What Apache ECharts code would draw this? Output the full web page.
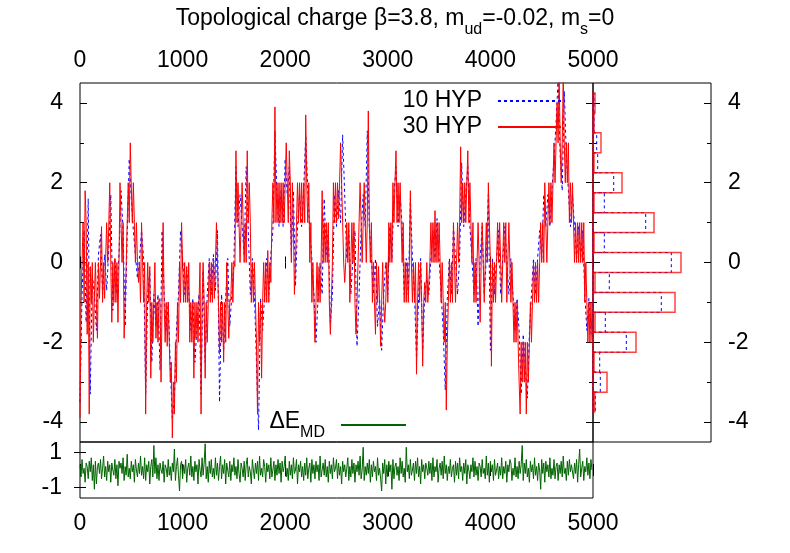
<!DOCTYPE html>
<html>
<head>
<meta charset="utf-8">
<script src="https://cdn.jsdelivr.net/npm/echarts@6/dist/echarts.min.js"></script>
<style>
  html, body { margin: 0; padding: 0; background: #fff; }
  #chart { width: 790px; height: 553px; }
</style>
</head>
<body>
<div id="chart"></div>
<script>
// MD time between stored samples
const STEP_10 = 20
const STEP_30 = 10
const STEP_DE = 10

// topological charge, 10 HYP smearing steps
const q10 = [
  -3.5, -0.8, 0.8, -1.5, 1.6, -3.3, -0.3, -0.8, -1.7, 0.2,
  0.7, -0.8, 0.2, -0.7, 0.3, 1.7, -1.2, 0.1, -0.8, 0.2,
  1.8, 0.8, -1.6, 0.7, 2.6, 1.6, 0.8, 0.2, -0.4, 0.1,
  0.8, 0.1, -3.3, -0.8, -0.2, -2.5, -0.8, -1.6, -0.8, -2.7,
  0.8, -0.8, -1.7, -1.0, -2.6, -3.9, -3.4, -1.7, -0.8, 0.8,
  0.1, -0.8, -0.2, -0.7, -1.7, -0.9, -2.5, -1.6, -0.8, -3.3,
  -0.2, -2.5, -0.8, 0.1, -0.8, 0.2, -0.7, 0.8, -3.5, -0.8,
  -2.2, -0.9, 0.1, -1.6, -0.8, 0.0, 2.4, 0.9, 1.7, 0.9,
  0.2, 2.4, 0.8, -0.8, 0.1, -0.8, -2.5, -4.2, -0.9, -1.7,
  -0.8, 0.1, -0.8, 0.2, 0.8, 3.3, 1.7, 0.9, 1.8, 0.9,
  2.6, 1.7, 2.4, 0.2, 1.8, -0.6, 0.9, 1.7, 0.9, 1.8,
  3.2, 1.8, 0.8, 0.1, -0.8, -2.0, -0.9, 0.0, -0.8, 1.6,
  0.2, 0.8, -1.5, -0.8, 1.7, 0.9, 1.8, 1.0, 3.2, 1.7,
  0.1, 0.8, -0.8, 0.1, 0.8, -2.1, -0.8, 0.8, 1.7, 0.9,
  3.3, 0.9, 0.1, -0.8, 0.1, -1.6, -0.9, -2.2, -0.8, 0.0,
  -0.8, 0.9, 0.1, 1.7, 2.4, 0.9, 1.7, 0.9, -0.8, 0.1,
  -0.8, 1.6, 0.1, -0.8, -2.4, -0.9, 0.1, -2.2, -0.8, -0.4,
  -0.8, 0.1, 0.8, 0.1, 1.1, 0.1, -0.8, -1.7, -3.2, -0.9,
  0.1, -0.8, 0.9, 0.1, -0.8, 0.1, 2.5, 0.9, 1.7, 2.4,
  0.9, 0.1, -0.8, 0.1, -1.6, 0.1, 0.9, -0.8, 0.1, 1.7,
  -2.2, 0.1, -0.8, 0.1, 0.8, -0.8, 0.1, 0.9, 0.1, -0.8,
  0.1, -0.8, -1.7, -0.9, -1.7, -3.3, -1.8, -2.6, -3.4, -1.8,
  -0.8, 0.1, -0.8, 0.1, 0.8, 0.1, 1.7, 0.9, 1.7, 0.9,
  1.8, 2.6, 3.5, 4.6, 2.7, 1.8, 4.3, 2.7, 1.8, 0.9,
  1.7, 0.9, 0.1, 0.9, 0.1, 0.8, -0.8, -1.7, -0.9, -1.8
]

// topological charge, 30 HYP smearing steps
const q30 = [
  -3.9, -1.0, 0.0, 1.0, -1.0, 1.8, 1.0, -1.8, 0.0, -3.8,
  -0.1, -1.0, 0.0, -2.0, -0.9, 0.0, -1.0, -1.9, 0.0, -0.9,
  0.0, 0.9, -1.0, 0.0, -0.9, 0.1, 1.0, 0.0, 0.9, 2.0,
  0.0, -1.5, 0.0, -1.0, 0.1, -1.0, 0.0, -1.5, 0.0, 2.0,
  1.0, 0.0, 1.0, -1.9, -1.0, -0.1, 1.0, 2.0, 1.0, 3.0,
  1.9, 1.0, 2.0, 1.0, 0.0, 1.0, 0.0, -0.5, 0.0, -1.0,
  1.0, 0.0, -1.0, 0.0, -3.8, -1.0, 0.0, -1.0, -0.1, -2.9,
  -1.0, -2.0, -1.0, 0.0, -1.9, -1.0, -2.0, -0.9, -1.0, -3.0,
  -1.0, 1.0, -1.0, -2.0, -1.0, -2.1, -1.0, -2.0, -3.0, -2.5,
  -4.4, -3.0, -3.8, -2.0, -3.0, -1.0, -2.0, 0.0, -1.0, 1.0,
  0.0, -1.0, 0.0, -1.0, -0.1, -1.0, 0.0, -2.0, -1.0, -2.0,
  -1.0, -2.9, -1.0, -1.9, -1.0, -2.0, -1.0, 0.0, -3.8, -1.0,
  0.0, -1.0, -2.9, -1.0, -2.0, -1.0, 0.0, -1.0, 0.0, -1.0,
  0.1, -0.9, 0.0, 1.0, 0.0, -1.0, -2.3, -1.0, -2.0, -1.0,
  -2.5, -1.0, -2.0, 0.0, -1.0, -1.9, -1.0, -0.9, 0.0, -1.0,
  0.0, -0.1, 2.8, 1.0, 2.0, 1.0, 0.0, 1.0, 2.0, 1.0,
  0.0, 1.0, 0.0, 2.8, 1.0, 2.0, 1.0, -1.0, 0.0, -1.0,
  0.0, -1.0, -2.0, -3.8, -1.0, -2.0, -1.0, -2.9, -1.0, 0.0,
  -1.0, 0.0, -1.0, 0.3, -1.0, 0.0, -0.5, 1.0, 2.0, 1.0,
  3.9, 1.0, 2.0, 1.0, 2.0, 1.0, 2.0, 1.0, 2.0, 1.0,
  2.0, 3.0, 2.0, 1.0, 2.8, 2.0, 0.0, 2.0, 1.0, -0.8,
  0.0, 1.0, 2.0, 1.0, 2.0, 1.0, 2.0, 1.0, 2.0, 1.0,
  3.7, 2.0, 1.0, 2.0, 0.0, 1.0, -1.0, 0.0, -1.0, -2.0,
  -1.0, 0.0, -1.0, -0.1, -1.0, 0.0, 1.8, 0.0, 1.0, 0.0,
  1.0, 0.0, 1.0, -1.0, -1.8, -1.0, 0.0, 2.0, 1.0, 2.0,
  1.0, 2.0, 1.1, 2.0, 3.0, 2.0, 1.0, 0.0, -0.5, 0.0,
  1.0, 0.0, 1.0, -1.0, 0.0, 1.0, 0.0, 1.0, -1.0, -1.8,
  -1.0, 0.0, 1.0, 2.0, 1.0, 0.0, 1.0, 2.0, 1.0, 0.0,
  1.0, 3.8, 1.0, 0.0, 1.0, -1.0, 0.0, -1.0, -1.8, 0.0,
  -1.0, -0.1, -1.0, -2.1, -1.0, 0.0, -1.0, -1.5, -1.0, 0.0,
  -1.0, 1.0, 0.0, 1.0, 0.0, 2.0, 1.0, 2.0, 2.8, 1.0,
  2.0, 1.0, 2.0, 1.0, 0.0, 1.0, -1.0, 0.0, -1.0, 0.0,
  -1.0, 0.0, 1.8, 0.0, -1.0, 0.0, -1.0, 0.0, -2.8, -1.0,
  0.0, -1.0, 0.0, -1.0, -2.6, -1.0, -0.5, -1.0, 0.0, -1.0,
  -0.5, 0.0, 1.0, 0.0, 1.0, 0.0, 1.3, 0.0, 1.0, 0.0,
  1.0, 0.0, -1.0, 0.0, -1.0, -2.0, -1.0, -3.7, -2.0, -1.0,
  0.0, -1.0, 0.0, -1.0, 1.0, 0.0, -1.0, 0.0, 1.0, 0.0,
  1.0, 2.9, 1.0, 2.0, 1.0, 2.0, 1.0, 2.0, 2.8, 1.0,
  2.0, 1.0, 0.0, 1.0, -1.0, 0.0, -1.0, 0.0, 1.0, 0.0,
  -1.5, 0.0, 1.0, 0.0, -1.0, 0.0, 1.0, 0.0, 2.0, 1.0,
  0.0, -2.6, 0.0, -1.0, 0.0, -1.0, 0.0, 1.0, 0.0, 1.0,
  0.0, -1.0, 0.0, 1.0, 0.0, 1.0, -1.0, 0.0, 1.0, 0.0,
  -1.0, 0.0, -1.0, -2.0, -1.0, -2.0, -1.0, -2.0, -3.0, -3.8,
  -2.0, -3.0, -2.0, -3.0, -2.0, -3.8, -2.0, -3.0, -2.0, -1.0,
  -2.0, -1.0, 0.0, -1.0, 0.0, -1.0, 0.0, -1.0, 0.0, 1.0,
  0.0, 1.0, 0.0, 2.0, 1.0, 0.0, 1.0, 2.0, 1.0, 2.0,
  1.0, 2.0, 3.0, 2.0, 3.0, 4.0, 3.0, 4.7, 3.0, 2.0,
  3.0, 4.7, 3.0, 2.0, 3.0, 2.0, 3.0, 1.0, 2.0, 1.0,
  2.0, 1.0, 0.0, 1.0, 0.0, 1.0, 0.0, 1.0, 0.0, 1.0,
  0.0, 1.0, -1.0, 0.0, -1.0, -2.0, -1.0, -2.0, -1.0, -2.0
]

// energy violation of the MD trajectories
const dEmd = [
  0.3, -0.4, 0.6, -0.2, 0.1, -0.7, 0.4, 0.2, -0.5, 0.5,
  -0.1, 0.7, -0.6, 0.3, -1.1, 0.5, -0.8, 0.2, 0.4, -0.2,
  0.6, -0.5, 0.1, 0.8, -0.4, 0.2, -0.6, 0.5, -0.1, 0.3,
  -0.7, 0.4, 0.0, -0.3, 0.6, -0.5, 0.3, -0.9, 0.5, 0.1,
  0.4, -0.2, 0.7, -0.6, 0.2, -0.3, 0.9, -0.4, 0.1, -0.5,
  0.5, -0.1, 0.3, -0.7, 0.6, 0.0, -0.4, 0.4, -0.2, 0.8,
  -0.3, 0.2, -0.5, 0.7, -0.6, 0.3, -0.1, 0.5, -0.8, 0.2,
  0.6, -0.4, 1.4, -0.2, 0.7, -0.5, 0.3, -0.6, 0.4, 0.0,
  -0.2, 0.5, -0.7, 0.3, 0.1, -0.4, 0.6, -0.3, 0.2, -0.6,
  0.4, -0.1, 1.2, -0.6, 0.2, 0.7, -0.3, -1.2, 0.3, 0.5,
  -0.5, 0.3, -0.2, 0.6, -0.7, 0.1, 0.4, -0.3, 0.8, -0.4,
  0.2, -0.6, 0.5, -0.1, 0.3, -0.8, 0.6, 0.0, -0.4, 0.7,
  -0.3, 0.4, 1.5, -0.5, 0.2, -0.7, 0.5, -0.2, 0.6, -0.4,
  0.1, -0.5, 0.7, -0.3, 0.4, -0.6, 0.2, 0.8, -0.5, 0.3,
  -0.2, 0.6, -0.8, 0.4, 0.0, -0.4, 0.5, -0.6, 0.3, -0.1,
  0.7, -0.3, 0.2, -0.5, 0.6, -0.2, -0.7, 0.4, 0.1, -0.4,
  0.5, -0.6, 0.3, 0.7, -0.4, 0.2, -0.1, -0.8, 0.6, 0.0,
  -0.5, 0.4, -0.2, 0.5, -0.6, 0.8, -0.3, 0.1, -0.4, 0.6,
  0.2, -0.7, 0.4, -0.1, 0.3, -0.5, 0.7, -0.4, 0.0, 0.5,
  -0.6, 0.3, -0.3, 0.6, -0.2, 0.4, -0.7, 0.5, -0.1, 0.2,
  0.8, -0.4, 0.1, -0.6, 0.5, -0.3, 0.3, -0.5, 0.7, -0.2,
  0.0, 0.6, -0.8, 0.3, -0.1, 0.5, -0.4, 0.2, -0.6, 0.4,
  -0.3, 0.7, -0.5, 0.1, 0.4, -0.7, 0.6, -0.2, 0.3, -0.5,
  0.5, -0.1, 0.3, -0.6, 0.8, -0.4, 0.0, 0.4, -0.3, 0.6,
  -0.4, 0.2, -0.7, 0.5, -0.2, 0.3, -0.5, 0.7, -0.1, 0.1,
  0.6, -0.5, 0.4, -0.3, 0.2, -0.8, 0.5, -0.1, 0.3, -0.4,
  0.1, 0.7, -0.6, 0.2, -0.4, 0.6, -0.2, 0.4, -0.7, 0.3,
  -0.1, 0.5, -0.3, 0.8, -0.5, 0.0, 1.3, -0.6, 0.2, -0.3,
  0.4, -0.2, 0.6, -0.7, 0.3, -0.4, 0.5, -0.1, 0.2, -0.6,
  0.7, -0.3, 0.1, -0.5, -1.2, 0.4, -0.2, 0.6, -0.8, 0.3,
  -0.4, 0.5, -0.1, 0.3, -1.1, 0.6, -0.5, 0.2, 0.4, -0.3,
  0.2, -0.6, 0.7, -0.2, 0.5, -0.4, 0.1, -0.7, 1.3, -0.1,
  0.3, -0.5, 0.6, -0.3, 0.0, 0.4, -0.6, 0.5, -0.2, 0.7,
  -0.4, 0.2, -0.8, 0.6, -0.1, 0.3, -0.5, 0.4, 0.1, -0.3,
  0.5, -0.2, 0.4, -0.6, 0.7, -0.4, 0.2, -0.1, 0.6, -0.7,
  0.1, 0.4, -0.3, 0.5, -0.5, 0.8, -0.2, 0.3, -0.6, 0.2,
  -0.2, 0.6, -0.4, 0.1, 0.3, -0.7, 0.5, -0.3, 0.4, -0.5,
  0.7, -0.1, 0.2, -0.6, 0.4, -0.2, 0.6, -0.8, 0.3, 0.0,
  -0.5, 0.3, -0.1, 0.7, -0.4, 0.5, -0.3, 0.2, -0.6, 0.4,
  0.2, -0.4, 0.6, -0.2, 0.1, -0.5, 0.8, -0.3, 0.4, -0.7,
  0.5, -0.1, 0.3, -0.6, 0.6, -0.3, 0.0, 0.4, -0.5, 0.2,
  -0.3, 0.7, -0.5, 0.2, -0.2, 0.5, -0.7, 0.3, -0.1, 0.6,
  0.4, -0.6, 0.1, -0.3, 0.7, -0.4, 0.2, -0.5, 0.5, -0.2,
  0.3, 1.4, -0.6, 0.4, -0.2, 0.6, -0.4, 0.1, -0.7, 0.5,
  -0.1, 0.3, -0.5, 0.7, -0.3, 0.2, -0.6, 0.4, 0.0, -1.1,
  0.6, -0.2, 0.4, -0.7, 0.5, -0.1, 0.3, -0.4, 0.7, -0.5,
  0.1, -0.3, 0.6, -0.5, 0.2, 0.4, -0.6, 0.3, -0.2, 0.5,
  -0.4, 0.8, -0.2, 0.1, -0.6, 0.5, -0.3, 0.6, -0.1, 0.3,
  0.2, -0.5, 0.4, -0.2, 0.6, -0.7, 0.3, 1.2, -0.4, 0.1,
  0.5, -0.6, 0.2, -0.1, 0.7, -0.3, 0.4, -0.5, 0.6, 0.0
]

// histograms of the charge (bin centre, counts)
const histBins = [4, 3.5, 3, 2.5, 2, 1.5, 1, 0.5, 0, -0.5, -1, -1.5, -2, -2.5, -3, -3.5]
const hist10 = [10, 10, 37, 47, 207, 113, 527, 113, 783, 163, 683, 123, 333, 67, 73, 23]
const hist30 = [20, 10, 80, 10, 290, 10, 610, 10, 880, 20, 820, 20, 430, 10, 140, 17]

const qMajor = [-4, -2, 0, 2, 4]
const qMinor = [-3, -1, 1, 3]
const deTicks = [-1, 1]

const FONT = 'Liberation Sans'
const BIN_W = 0.5

const chart = echarts.init(document.getElementById('chart'))

function series(values, step) {
  return values.map((v, i) => [i * step, v])
}

function yAxis(gridIndex, position, range, ticks, len, labels, margin) {
  return {
    type: 'value',
    gridIndex: gridIndex,
    position: position,
    min: range[0],
    max: range[1],
    axisLine: { show: false },
    splitLine: { show: false },
    axisTick: { show: true, inside: true, length: len, customValues: ticks, lineStyle: { color: '#000', width: 1 } },
    axisLabel: labels
      ? { show: true, customValues: labels, margin: margin, color: '#000', fontFamily: FONT, fontSize: 23 }
      : { show: false }
  }
}

function xAxis(gridIndex, position, labels) {
  return {
    type: 'value',
    gridIndex: gridIndex,
    position: position,
    min: 0,
    max: 5000,
    interval: 1000,
    axisLine: { show: false },
    splitLine: { show: false },
    axisTick: { show: true, inside: true, length: 6, lineStyle: { color: '#000', width: 1 } },
    axisLabel: labels
      ? {
          show: true,
          margin: position === 'top' ? 11 : 14,
          color: '#000',
          fontFamily: FONT,
          fontSize: 23,
          formatter: v => String(v)
        }
      : { show: false }
  }
}

function histItem(color, dash) {
  return function (params, api) {
    const n = api.value(0)
    const c = api.value(1)
    const p0 = api.coord([0, c + BIN_W / 2])
    const p1 = api.coord([n, c - BIN_W / 2])
    return {
      type: 'rect',
      shape: { x: p0[0], y: p0[1], width: p1[0] - p0[0], height: p1[1] - p0[1] },
      style: { fill: 'none', stroke: color, lineWidth: dash ? 1 : 1.5, lineDash: dash || null }
    }
  }
}

const subRich = {
  a: { fontFamily: FONT, fontSize: 23, fontWeight: 'normal', color: '#000', lineHeight: 30, verticalAlign: 'top' },
  s: { fontFamily: FONT, fontSize: 16, fontWeight: 'normal', color: '#000', lineHeight: 16, verticalAlign: 'top', padding: [15, 0, 0, 0] }
}

const qRange = [-4.5, 4.5]
const dRange = [-1.6, 1.6]

const option = {
  animation: false,
  backgroundColor: '#fff',
  title: {
    text: '{a|Topological charge β=3.8, m}{s|ud}{a|=-0.02, m}{s|s}{a|=0}',
    left: 'center',
    top: 7,
    padding: 0,
    textStyle: { fontWeight: 'normal', rich: subRich }
  },
  legend: [
    {
      data: ['10 HYP', '30 HYP'],
      orient: 'vertical',
      align: 'right',
      right: 228,
      top: 88,
      itemWidth: 63,
      itemHeight: 14,
      itemGap: 0,
      padding: 0,
      selectedMode: false,
      itemStyle: { opacity: 0 },
      textStyle: { fontFamily: FONT, fontSize: 23, color: '#000', lineHeight: 26, padding: [0, 11, 0, 0] }
    },
    {
      data: ['ΔE_MD'],
      align: 'right',
      right: 383,
      top: 410,
      itemWidth: 65,
      itemHeight: 14,
      padding: 0,
      selectedMode: false,
      itemStyle: { opacity: 0 },
      formatter: () => '{a|ΔE}{s|MD}',
      textStyle: { padding: [0, 11, 0, 0], rich: subRich }
    }
  ],
  grid: [
    { left: 80, top: 83, width: 513, height: 359, show: true, borderColor: '#000', borderWidth: 1, outerBoundsMode: 'none' },
    { left: 593, top: 83, width: 118, height: 359, show: true, borderColor: '#000', borderWidth: 1, outerBoundsMode: 'none' },
    { left: 80, top: 442, width: 513, height: 56, show: true, borderColor: '#000', borderWidth: 1, outerBoundsMode: 'none' }
  ],
  xAxis: [
    xAxis(0, 'top', true),
    xAxis(0, 'bottom', false),
    { type: 'value', gridIndex: 1, min: 0, max: 1180, show: false },
    xAxis(2, 'bottom', true),
    xAxis(2, 'top', false)
  ],
  yAxis: [
    yAxis(0, 'left', qRange, qMajor, 7, qMajor, 17),
    yAxis(0, 'left', qRange, qMinor, 4),
    yAxis(0, 'right', qRange, qMajor, 7),
    yAxis(0, 'right', qRange, qMinor, 4),
    yAxis(1, 'left', qRange, qMajor, 7),
    yAxis(1, 'left', qRange, qMinor, 4),
    yAxis(1, 'right', qRange, qMajor, 7, qMajor, 17),
    yAxis(1, 'right', qRange, qMinor, 4),
    yAxis(2, 'left', dRange, deTicks, 6, deTicks, 18),
    yAxis(2, 'right', dRange, deTicks, 6)
  ],
  series: [
    {
      name: '10 HYP',
      type: 'line',
      xAxisIndex: 0,
      yAxisIndex: 0,
      data: series(q10, STEP_10),
      symbol: 'none',
      color: '#0000ff',
      lineStyle: { color: '#0000ff', width: 1, type: [3, 3] }
    },
    {
      name: '30 HYP',
      type: 'line',
      xAxisIndex: 0,
      yAxisIndex: 0,
      data: series(q30, STEP_30),
      symbol: 'none',
      color: '#ff0000',
      lineStyle: { color: '#ff0000', width: 1 }
    },
    {
      name: 'ΔE_MD',
      type: 'line',
      xAxisIndex: 3,
      yAxisIndex: 8,
      data: series(dEmd, STEP_DE),
      symbol: 'none',
      color: '#006400',
      lineStyle: { color: '#006400', width: 1 }
    },
    {
      name: 'hist 10',
      type: 'custom',
      xAxisIndex: 2,
      yAxisIndex: 4,
      data: histBins.map((b, i) => [hist10[i], b]),
      renderItem: histItem('#0000ff', [3, 3])
    },
    {
      name: 'hist 30',
      type: 'custom',
      xAxisIndex: 2,
      yAxisIndex: 4,
      data: histBins.map((b, i) => [hist30[i], b]),
      renderItem: histItem('rgba(255,0,0,0.75)')
    }
  ]
}

chart.setOption(option)
</script>
</body>
</html>
